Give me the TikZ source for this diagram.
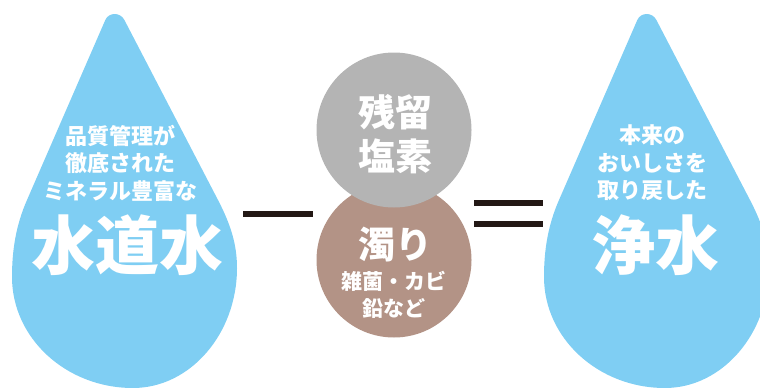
\documentclass[tikz,border=0pt]{standalone}
\usepackage{fontspec}
\newfontfamily\jpfont{Noto Sans CJK JP}
\usetikzlibrary{positioning}
\definecolor{dropblue}{HTML}{7FCEF3}
\definecolor{chlorgray}{HTML}{B4B4B4}
\definecolor{dirtbrown}{HTML}{B39386}
\definecolor{bardark}{HTML}{231815}
\tikzstyle{drop} = [fill=dropblue]
\tikzstyle{bar} = [line width=6pt,draw=bardark]

\begin{document}
\begin{tikzpicture}[x=1pt,y=-1pt,
  ball/.style={circle,minimum size=155pt,inner sep=0pt},
  small text/.style={text=white,align=center,font=\jpfont\bfseries\fontsize{22}{27.5}\selectfont},
  big text/.style={text=white,font=\jpfont\bfseries\fontsize{64}{64}\selectfont},
  mid text/.style={text=white,align=center,font=\jpfont\bfseries\fontsize{37}{44.5}\selectfont},
  tiny text/.style={text=white,align=center,font=\jpfont\bfseries\fontsize{21}{27}\selectfont}]
  \useasboundingbox (0,0) rectangle (760,388);
  \clip (0,0) rectangle (760,388);
  % the two drops
  \foreach \dx in {0,532}
    \fill[drop,xshift=\dx] (105.3,20) .. controls (108.8,12) and (120.3,12) .. (124.4,20)
      -- (218,200) .. controls (231,225) and (237,245) .. (237,268)
      .. controls (237,334) and (190,388) .. (133,388)
      .. controls (66,388) and (12,338) .. (12,277)
      .. controls (12,250) and (16,225) .. (27,200) -- cycle;
  % tap water
  \node[small text] (tapTop) at (120,163) {品質管理が\\徹底された\\ミネラル豊富な};
  \node[big text] (tap) at (127,245) {水道水};
  % what is taken out
  \node[ball,fill=dirtbrown] (dirt) at (394,260) {};
  \node[ball,fill=chlorgray] (chlor) at (394,130) {};
  \node[mid text] (chlorText) at (395,134) {残留\\塩素};
  \node[mid text] (dirtText) at (395,245) {濁り};
  \node[tiny text] (dirtSub) at (394,294.5) {雑菌・カビ\\鉛など};
  % purified water
  \node[small text] (pureTop) at (652,163) {本来の\\おいしさを\\取り戻した};
  \node[big text] (pure) at (655,245) {浄水};
  % minus and equals
  \draw[bar] (243,214) -- (313,214);
  \draw[bar] (474,203) -- (543,203);
  \draw[bar] (474,224) -- (543,224);
\end{tikzpicture}
\end{document}
